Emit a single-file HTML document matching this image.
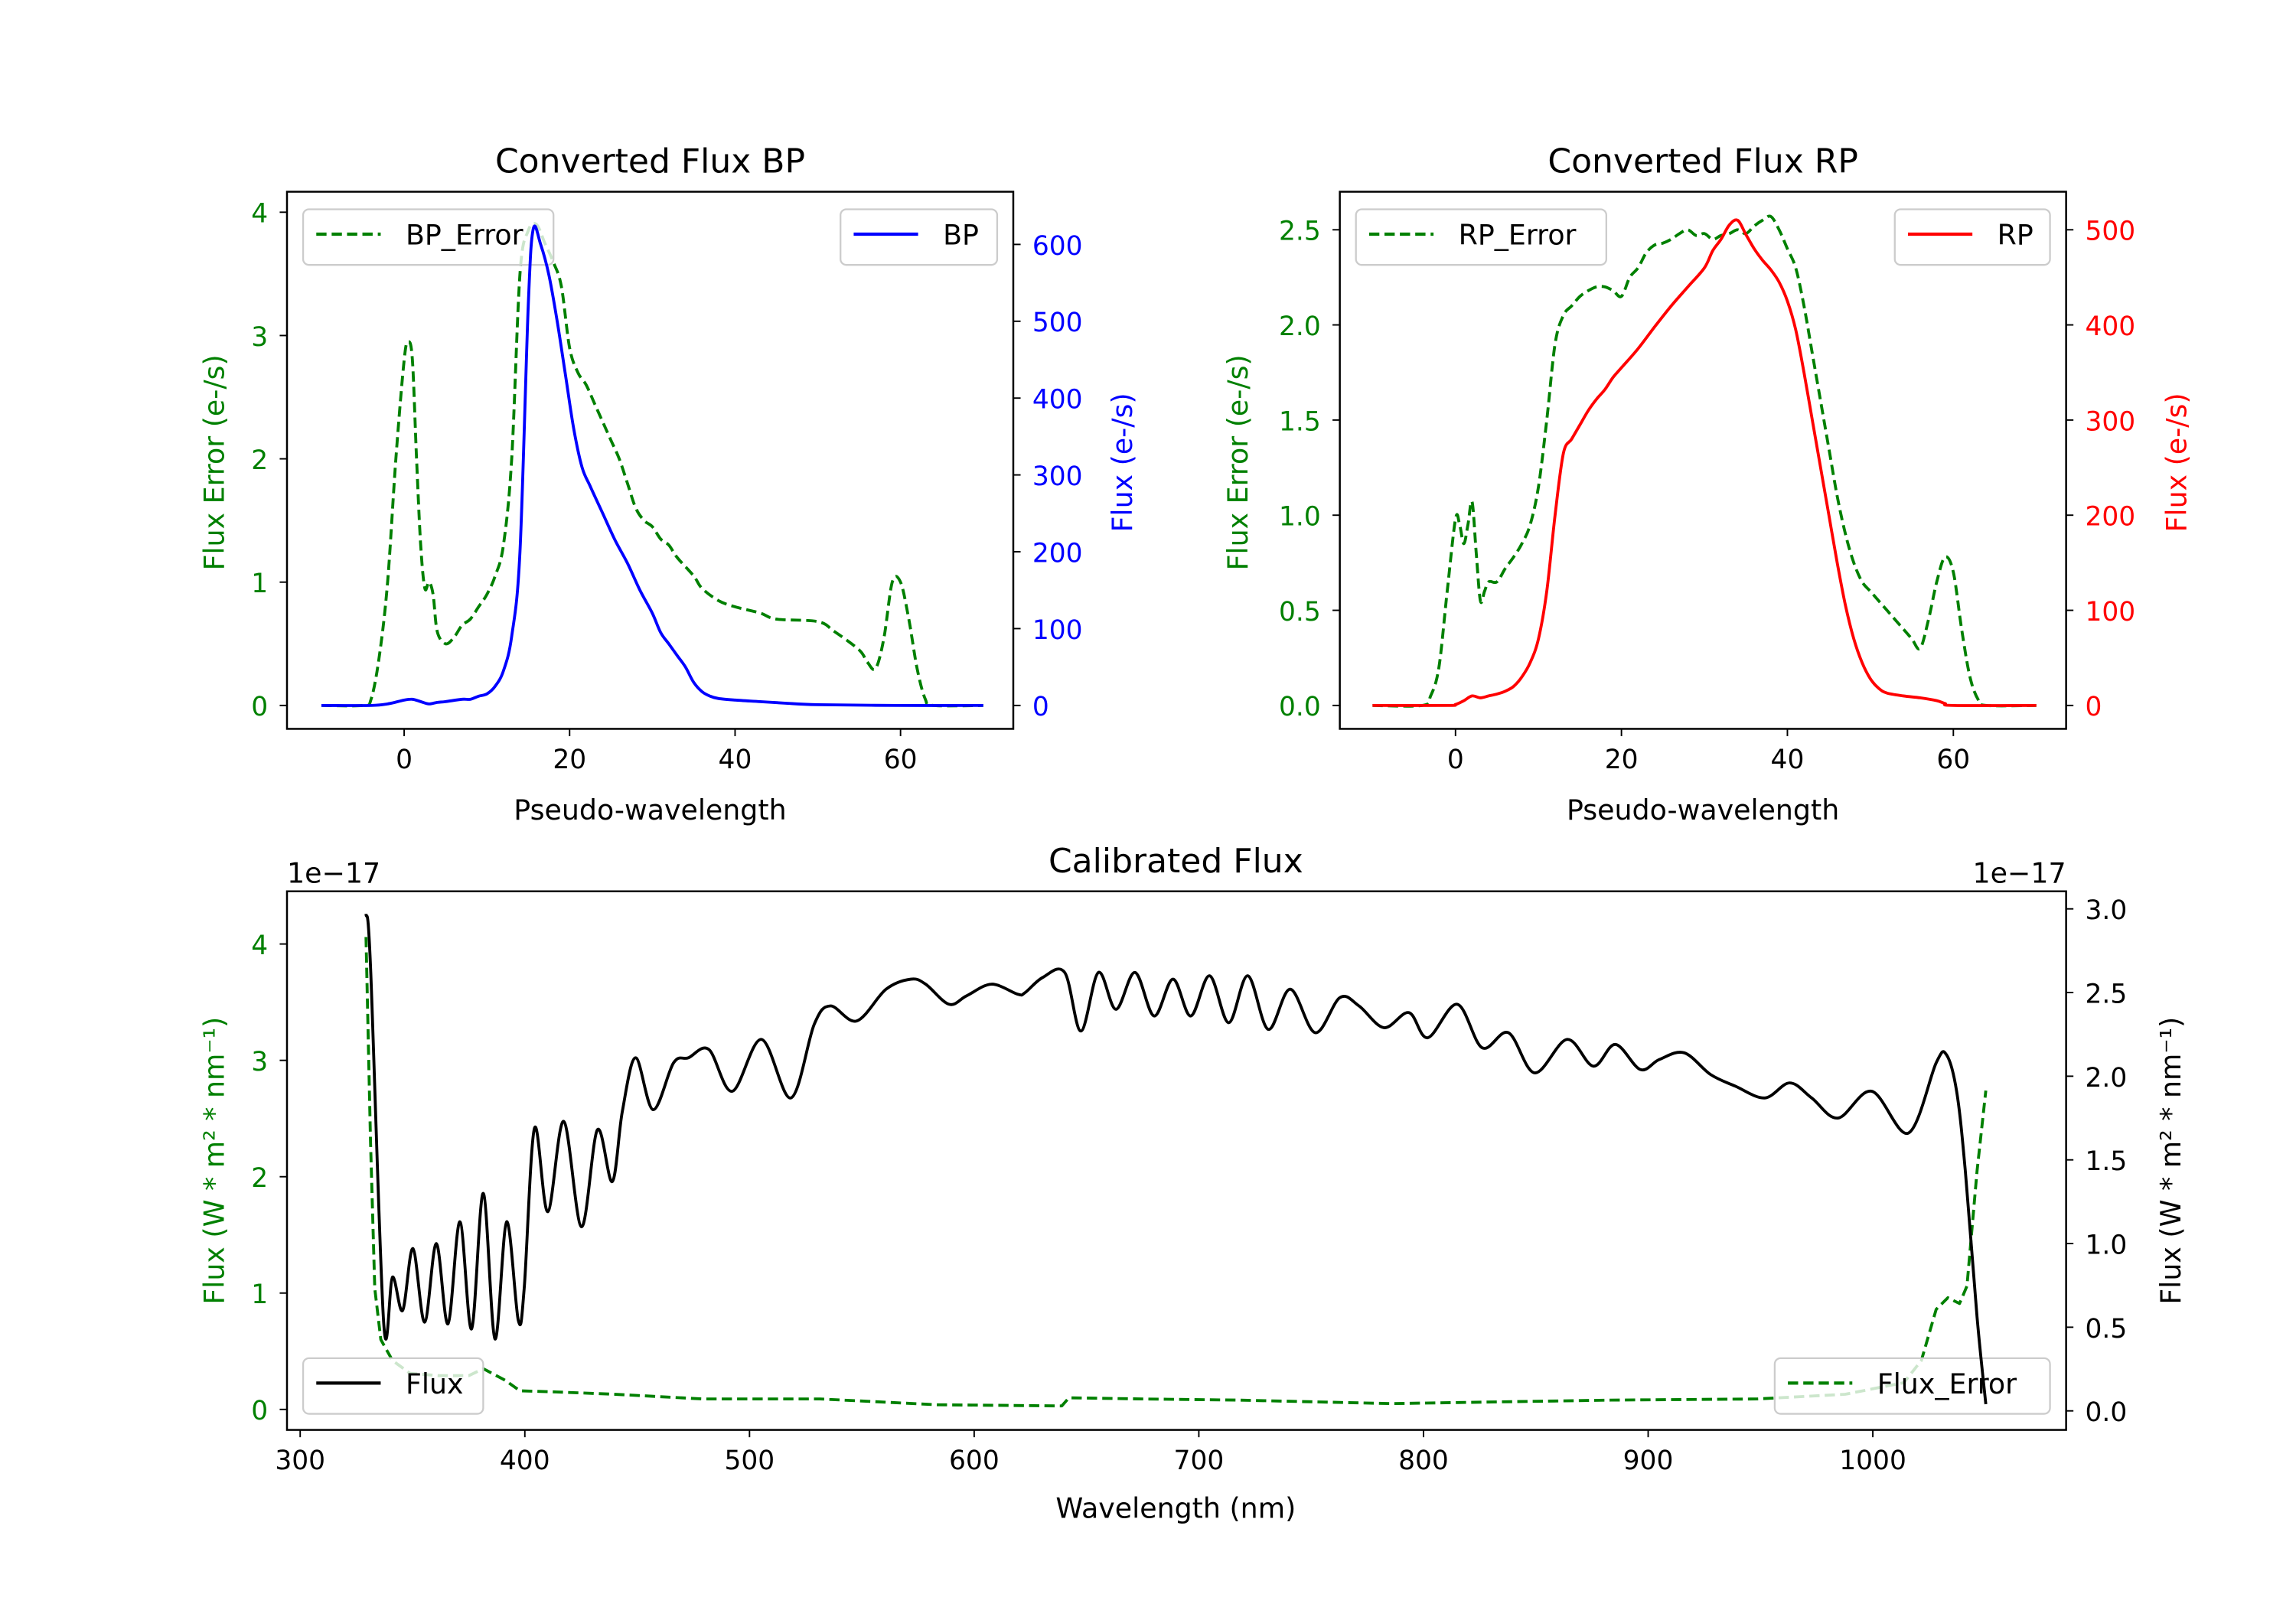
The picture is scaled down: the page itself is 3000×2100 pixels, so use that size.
<!DOCTYPE html>
<html><head><meta charset="utf-8"><style>
html,body{margin:0;padding:0;background:#fff;}
svg{display:block;font-family:"DejaVu Sans","Liberation Sans",sans-serif;}
</style></head><body>
<svg id="fig" xmlns="http://www.w3.org/2000/svg" width="3000" height="2100" viewBox="0 0 1568 1098" preserveAspectRatio="none">
<rect width="1568" height="1098" fill="#fff"/>
</svg>
<script>
// ---- BP data ----
const bpX = [-10,-4,-2,0,1,2,3,4,5,7,8,9,10,11,12,13,14,15,15.6,16.5,17.5,18.5,19.5,20.5,21.5,22.5,24,25.5,27,28.5,30,31,32,33,34,35,36,37,38,40,43,46,50,60,70];
const bpFlux = [0,0,2,7,8,5,2,4,5,8,8,12,15,25,45,90,200,520,620,600,560,500,430,360,310,285,250,215,185,150,120,95,80,65,50,30,18,12,9,7,5,3,1,0,0];
const bpErrX = [-10,-5,-4,-3,-2,-1,0,0.5,1,1.5,2,2.5,3,3.5,4,5,6,7,8,9,10,11,12,13,14,15,16,17,18,19,20,21,22,23,24,25,26,27,28,29,30,31,32,33,35,36,38,40,43,45,50,52,55,56,57,58,59,60,61,62,63,64,70];
const bpErr = [0,0,0.05,0.4,1.0,2.0,2.8,2.95,2.8,2.0,1.3,0.95,1.0,0.9,0.6,0.5,0.55,0.65,0.7,0.8,0.9,1.05,1.3,2.0,3.5,3.85,3.9,3.75,3.6,3.4,2.9,2.7,2.6,2.45,2.3,2.15,2.0,1.8,1.6,1.5,1.45,1.35,1.3,1.2,1.05,0.95,0.85,0.8,0.75,0.7,0.68,0.6,0.45,0.35,0.3,0.55,1.0,1.0,0.7,0.3,0.05,0,0];
// ---- RP data ----
const rpX = [-10,-1,0,1,2,3,4,5,6,7,8,9,10,11,12,13,14,15,16,17,18,19,20,22,24,26,28,30,31,32,33,34,35,36,37,38,39,40,41,42,43,44,45,46,47,48,49,50,51,52,54,56,58,59,60,70];
const rpFlux = [0,0,1,5,10,8,10,12,15,20,30,45,70,120,200,265,280,295,310,322,332,345,355,375,398,420,440,460,478,490,505,510,495,480,468,458,445,425,395,350,300,250,200,150,105,70,45,28,18,13,10,8,5,2,0,0];
const rpErrX = [-10,-4,-3,-2,-1,0,0.5,1,1.5,2,2.5,3,3.5,4,5,6,7,8,9,10,11,12,13,14,15,16,17,18,19,20,21,22,23,24,25,26,27,28,29,30,31,32,33,34,35,36,37,38,39,40,41,42,43,44,45,46,47,48,49,50,51,52,53,54,55,56,57,58,59,60,61,62,63,64,70];
const rpErr = [0,0,0.05,0.2,0.6,0.98,0.95,0.85,0.95,1.07,0.8,0.55,0.6,0.65,0.65,0.72,0.78,0.85,0.95,1.15,1.5,1.9,2.05,2.1,2.15,2.18,2.2,2.2,2.18,2.15,2.25,2.3,2.38,2.42,2.43,2.45,2.48,2.5,2.47,2.48,2.45,2.47,2.48,2.5,2.48,2.52,2.55,2.57,2.5,2.4,2.3,2.1,1.85,1.6,1.35,1.1,0.9,0.75,0.65,0.6,0.55,0.5,0.45,0.4,0.35,0.3,0.45,0.65,0.78,0.7,0.4,0.15,0.03,0,0];
// ---- Calibrated data (flux in 1e-17) ----
const calWl = [329.3,331.3,337.2,341.1,345.6,350.2,355.4,360.6,365.8,371.1,376.3,381.5,386.7,391.9,397.1,399.7,404.3,410.2,417.3,425.2,432.3,438.9,443.4,449.3,457.1,466.2,472.8,481.9,492.3,505.3,518.4,528.8,536.0,547.7,560.8,571.8,578.4,588.8,596.6,607.7,619.4,622.7,630.5,640.3,647.5,655.3,663.1,671.6,680.1,688.5,696.4,704.8,713.3,721.8,730.9,740.7,751.8,762.8,771.3,782.4,793.5,801.9,815.0,826.1,837.8,849.5,863.9,875.6,885.4,896.5,905.0,916.0,927.8,938.9,951.9,963.0,972.8,984.5,999.5,1015.8,1028.2,1032.7,1037.3,1041.2,1046.4,1050.3];
const calFlux = [2.97,2.66,0.52,0.80,0.60,0.97,0.53,1.00,0.52,1.13,0.49,1.30,0.43,1.13,0.54,0.73,1.69,1.19,1.73,1.10,1.68,1.37,1.79,2.11,1.80,2.08,2.11,2.16,1.91,2.22,1.87,2.31,2.42,2.33,2.52,2.58,2.55,2.43,2.48,2.55,2.49,2.50,2.59,2.62,2.27,2.62,2.40,2.62,2.36,2.58,2.36,2.60,2.32,2.60,2.28,2.52,2.26,2.47,2.42,2.29,2.38,2.23,2.43,2.17,2.26,2.02,2.22,2.06,2.19,2.04,2.10,2.14,2.01,1.94,1.87,1.96,1.87,1.75,1.91,1.66,2.08,2.13,1.91,1.43,0.56,0.04];
const errWl = [329.3,331.3,333.2,335.9,341.1,348.9,361.9,375,381.5,391.3,397.8,414.1,440.2,479.3,531.4,583.6,639,642.2,674.8,717.5,785.7,883.4,948.6,987.7,1013.8,1021.6,1028.2,1033.4,1038.6,1041.9,1046.4,1050.3];
const calErr = [4.06,2.31,1.04,0.60,0.42,0.31,0.29,0.29,0.35,0.25,0.16,0.15,0.13,0.09,0.09,0.04,0.03,0.10,0.09,0.08,0.05,0.08,0.09,0.13,0.23,0.42,0.86,0.96,0.91,1.06,2.05,2.74];

const bpXTicks=[0,20,40,60], bpErrTicks=[0,1,2,3,4], bpFluxTicks=[0,100,200,300,400,500,600];
const rpXTicks=[0,20,40,60], rpErrTicks=['0.0','0.5','1.0','1.5','2.0','2.5'], rpFluxTicks=[0,100,200,300,400,500];
const calXTicks=[300,400,500,600,700,800,900,1000], calErrTicks=[0,1,2,3,4], calFluxTicks=['0.0','0.5','1.0','1.5','2.0','2.5','3.0'];

const NS='http://www.w3.org/2000/svg';
const svg=document.getElementById('fig');
function mk(tag,attrs,parent){const e=document.createElementNS(NS,tag);for(const k in attrs)e.setAttribute(k,attrs[k]);(parent||svg).appendChild(e);return e;}
function txt(s,x,y,size,fill,anchor,rot,parent){const t=mk('text',{x:x,y:y,'font-size':size,fill:fill,'text-anchor':anchor||'middle'},parent);if(rot)t.setAttribute('transform','rotate('+rot+' '+x+' '+y+')');t.textContent=s;return t;}
function lin(d0,d1,p0,p1){return v=>p0+(v-d0)*(p1-p0)/(d1-d0);}
function path(xs,ys,fx,fy,stroke,dash,smooth){
  let d='';
  const P=xs.map((x,i)=>[fx(x),fy(ys[i])]);
  if(!smooth){P.forEach((p,i)=>{d+=(i?'L':'M')+p[0].toFixed(2)+' '+p[1].toFixed(2);});}
  else{
    d='M'+P[0][0]+' '+P[0][1];
    for(let i=0;i<P.length-1;i++){
      const p0=P[i-1]||P[i],p1=P[i],p2=P[i+1],p3=P[i+2]||p2;
      const c1=[p1[0]+(p2[0]-p0[0])/6,p1[1]+(p2[1]-p0[1])/6];
      const c2=[p2[0]-(p3[0]-p1[0])/6,p2[1]-(p3[1]-p1[1])/6];
      d+='C'+c1[0].toFixed(2)+' '+c1[1].toFixed(2)+' '+c2[0].toFixed(2)+' '+c2[1].toFixed(2)+' '+p2[0].toFixed(2)+' '+p2[1].toFixed(2);
    }
  }
  const a={d:d,fill:'none',stroke:stroke,'stroke-width':2,'stroke-linejoin':'round'};
  if(dash)a['stroke-dasharray']='7,3.5';
  return mk('path',a);
}
function legend(x,y,w,label,color,dash,name){
  const g=mk('g',{});
  
  
  mk('rect',{x:x,y:y,width:w,height:38,rx:4,fill:'#fff','fill-opacity':0.8,stroke:'#ccc','stroke-width':1.2},g);
  const l=mk('line',{x1:x+9,y1:y+17,x2:x+53,y2:y+17,stroke:color,'stroke-width':2.2},g);
  if(dash)l.setAttribute('stroke-dasharray','7,3.5');
  txt(label,x+70,y+24,19,'#000','start',0,g);
}
function axes(o){
  const {x0,x1,y0,y1}=o;
  o.xt.forEach(v=>{const px=o.fx(+v);mk('line',{x1:px,y1:y1,x2:px,y2:y1+5,stroke:'#000','stroke-width':1});txt(String(v),px,y1+27,18,'#000');});
  o.lt.forEach(v=>{const py=o.fyl(+v);mk('line',{x1:x0,y1:py,x2:x0-5,y2:py,stroke:'#000','stroke-width':1});txt(String(v),x0-13,py+7,18,o.lc,'end');});
  o.rt.forEach(v=>{const py=o.fyr(+v);mk('line',{x1:x1,y1:py,x2:x1+5,y2:py,stroke:'#000','stroke-width':1});txt(String(v),x1+13,py+7,18,o.rc,'start');});
}
function frame(x0,y0,x1,y1,name){const r=mk('rect',{x:x0,y:y0,width:x1-x0,height:y1-y0,fill:'none',stroke:'#000','stroke-width':1.3});}

// ===== BP =====
(function(){
  const x0=196,x1=692,y0=131,y1=498;
  const fx=lin(0,60,276,615), fyl=lin(0,4,482,145), fyr=lin(0,600,482,167);
  const c=mk('defs',{});const cp=mk('clipPath',{id:'c1'},c);mk('rect',{x:x0,y:y0,width:x1-x0,height:y1-y0},cp);
  const g1=path(bpErrX,bpErr,fx,fyl,'#008000',true,true);g1.setAttribute('clip-path','url(#c1)');
  
  legend(207,143,171,'BP_Error','#008000',true,'bp-error-legend');
  const g2=path(bpX,bpFlux,fx,fyr,'#0000ff',false,true);g2.setAttribute('clip-path','url(#c1)');
  
  legend(574,143,107,'BP','#0000ff',false,'bp-legend');
  frame(x0,y0,x1,y1,'bp-axes');
  axes({x0,x1,y0,y1,fx,fyl,fyr,xt:bpXTicks,lt:bpErrTicks,rt:bpFluxTicks,lc:'#008000',rc:'#0000ff'});
  txt('Converted Flux BP',444,118,23,'#000');
  txt('Pseudo-wavelength',444,560,19,'#000');
  txt('Flux Error (e-/s)',153,316,19,'#008000','middle',-90);
  txt('Flux (e-/s)',773,316,19,'#0000ff','middle',-90);
})();
// ===== RP =====
(function(){
  const x0=915,x1=1411,y0=131,y1=498;
  const fx=lin(0,60,994,1334), fyl=lin(0,2.5,482,157), fyr=lin(0,500,482,157);
  const c=mk('defs',{});const cp=mk('clipPath',{id:'c2'},c);mk('rect',{x:x0,y:y0,width:x1-x0,height:y1-y0},cp);
  const g1=path(rpErrX,rpErr,fx,fyl,'#008000',true,true);g1.setAttribute('clip-path','url(#c2)');
  
  legend(926,143,171,'RP_Error','#008000',true,'rp-error-legend');
  const g2=path(rpX,rpFlux,fx,fyr,'#ff0000',false,true);g2.setAttribute('clip-path','url(#c2)');
  
  legend(1294,143,106,'RP','#ff0000',false,'rp-legend');
  frame(x0,y0,x1,y1,'rp-axes');
  axes({x0,x1,y0,y1,fx,fyl,fyr,xt:rpXTicks,lt:rpErrTicks,rt:rpFluxTicks,lc:'#008000',rc:'#ff0000'});
  txt('Converted Flux RP',1163,118,23,'#000');
  txt('Pseudo-wavelength',1163,560,19,'#000');
  txt('Flux Error (e-/s)',852,316,19,'#008000','middle',-90);
  txt('Flux (e-/s)',1493,316,19,'#ff0000','middle',-90);
})();
// ===== Calibrated =====
(function(){
  const x0=196,x1=1411,y0=609,y1=977;
  const fx=lin(300,1000,205,1279), fyl=lin(0,4,963,645), fyr=lin(0,3,964,621);
  const c=mk('defs',{});const cp=mk('clipPath',{id:'c3'},c);mk('rect',{x:x0,y:y0,width:x1-x0,height:y1-y0},cp);
  const g1=path(errWl,calErr,fx,fyl,'#008000',true,false);g1.setAttribute('clip-path','url(#c3)');
  
  legend(1212,928,188,'Flux_Error','#008000',true,'flux-error-legend');
  legend(207,928,123,'Flux','#000',false,'flux-legend');
  const g2=path(calWl,calFlux,fx,fyr,'#000',false,true);g2.setAttribute('clip-path','url(#c3)');
  
  frame(x0,y0,x1,y1,'calibrated-axes');
  axes({x0,x1,y0,y1,fx,fyl,fyr,xt:calXTicks,lt:calErrTicks,rt:calFluxTicks,lc:'#008000',rc:'#000'});
  txt('Calibrated Flux',803,596,23,'#000');
  txt('Wavelength (nm)',803,1037,19,'#000');
  txt('1e\u221217',196,603,19,'#000','start');
  txt('1e\u221217',1411,603,19,'#000','end');
  txt('Flux (W * m\u00b2 * nm\u207b\u00b9)',153,793,19,'#008000','middle',-90);
  txt('Flux (W * m\u00b2 * nm\u207b\u00b9)',1489,793,19,'#000','middle',-90);
})();
</script>
</body></html>
